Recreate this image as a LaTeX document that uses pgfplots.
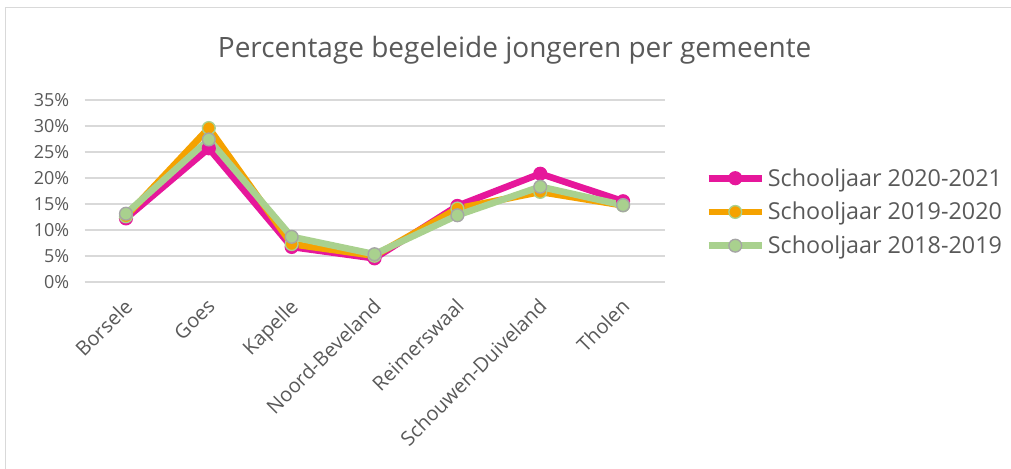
\documentclass[border=0pt]{standalone}
\usepackage{pgfplots}
\pgfplotsset{compat=1.18}
\usepackage{fontspec}
\setmainfont{Open Sans}
\definecolor{txt}{HTML}{595959}
\definecolor{gridc}{HTML}{D9D9D9}
\definecolor{pinkc}{HTML}{E6179B}
\definecolor{orangec}{HTML}{F5A200}
\definecolor{greenc}{HTML}{A9D18E}
\definecolor{greyc}{HTML}{A5A5A5}
\begin{document}
\begin{tikzpicture}
\useasboundingbox (0,0) rectangle (758.25pt,351pt);
\draw[gridc, line width=0.75pt] (3.75pt,345pt) rectangle (760pt,-5pt);
\node[txt, font=\fontsize{21}{24}\selectfont] at (386pt,313.5pt) {Percentage begeleide jongeren per gemeente};
\begin{axis}[
  at={(63.4pt,139.7pt)}, anchor=south west,
  width=435pt, height=136.3pt, scale only axis,
  xmin=-0.5, xmax=6.5, ymin=0, ymax=35,
  axis line style={draw=none},
  ytick={0,5,...,35},
  yticklabel={\pgfmathprintnumber{\tick}\%},
  /pgf/number format/assume math mode=true,
  ymajorgrids, grid style={gridc, line width=1.5pt},
  major tick length=0pt,
  xtick={0,...,6},
  xticklabels={Borsele,Goes,Kapelle,Noord-Beveland,Reimerswaal,Schouwen-Duiveland,Tholen},
  x tick label style={xshift=-2.25pt, yshift=-10pt, rotate=45, anchor=north east, font=\fontsize{15}{17}\selectfont, text=txt, inner sep=1pt},
  y tick label style={font=\fontsize{13.5}{15}\selectfont, text=txt},
  yticklabel style={xshift=-8pt},
  legend style={at={(1.0698,0.384)}, anchor=west, draw=none, fill=none,
    font=\fontsize{17.5}{19}\selectfont, text=txt, row sep=6.5pt,
    legend cell align=left, inner xsep=0pt},
  legend image code/.code={
    \draw[#1, mark=none] (0pt,0pt) -- (40pt,0pt);
    \draw[#1, only marks] plot coordinates {(20pt,0pt)};
  },
]
\addplot[pinkc, line width=5pt, mark=*, mark size=4.8pt, mark options={fill=pinkc, draw=pinkc, line width=1pt}]
  coordinates {(0,12.2) (1,25.7) (2,6.7) (3,4.5) (4,14.6) (5,20.8) (6,15.5)};
\addlegendentry{Schooljaar 2020-2021}
\addplot[orangec, line width=5pt, mark=*, mark size=4.8pt, mark options={fill=orangec, draw=greenc, line width=1pt}]
  coordinates {(0,12.6) (1,29.6) (2,7.25) (3,5.0) (4,14.1) (5,17.3) (6,14.7)};
\addlegendentry{Schooljaar 2019-2020}
\addplot[greenc, line width=5pt, mark=*, mark size=4.8pt, mark options={fill=greenc, draw=greyc, line width=1pt}]
  coordinates {(0,13.1) (1,27.4) (2,8.65) (3,5.3) (4,12.8) (5,18.3) (6,14.75)};
\addlegendentry{Schooljaar 2018-2019}
\end{axis}
\end{tikzpicture}
\end{document}
